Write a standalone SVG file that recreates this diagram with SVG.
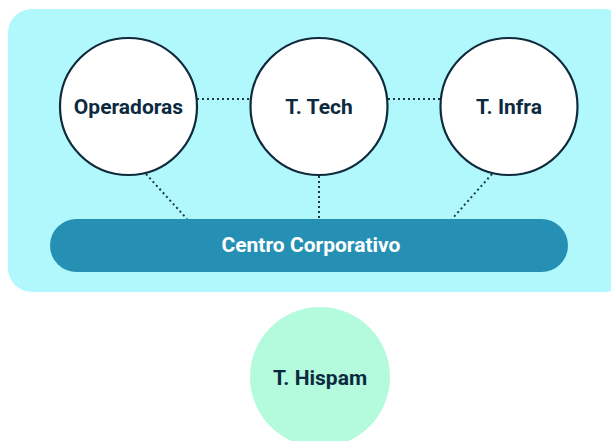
<svg xmlns="http://www.w3.org/2000/svg" width="611" height="441" viewBox="0 0 611 441">
<style>
.lbl{font-family:Roboto,"Liberation Sans",sans-serif;font-weight:bold;font-size:21px;fill:#0b2a40;text-anchor:middle;dominant-baseline:central}
.node{fill:#ffffff;stroke:#0f2a3c;stroke-width:2.2}
.dot{stroke:#1a3a4a;stroke-width:2;stroke-dasharray:2 3;fill:none}
</style>
<rect x="8" y="9" width="620" height="283" rx="24" fill="#b0f8fc"/>
<g id="connectors">
<line class="dot" x1="197" y1="99" x2="250" y2="99"/>
<line class="dot" x1="388" y1="99" x2="440" y2="99"/>
<line class="dot" x1="146" y1="174" x2="187" y2="219"/>
<line class="dot" x1="319" y1="176" x2="319" y2="219"/>
<line class="dot" x1="492" y1="174" x2="452" y2="219"/>
</g>
<g id="operadoras">
<circle class="node" cx="128.5" cy="106.5" r="68.5"/>
<text class="lbl" x="128.5" y="107">Operadoras</text>
</g>
<g id="ttech">
<circle class="node" cx="319" cy="106.5" r="68.5"/>
<text class="lbl" x="319" y="107">T. Tech</text>
</g>
<g id="tinfra">
<circle class="node" cx="509" cy="106.5" r="68.5"/>
<text class="lbl" x="509" y="107">T. Infra</text>
</g>
<g id="centro">
<rect x="50" y="219" width="518" height="53" rx="26.5" fill="#2690b4"/>
<text class="lbl" x="311" y="245" style="fill:#ffffff">Centro Corporativo</text>
</g>
<g id="thispam">
<circle cx="320" cy="377" r="70" fill="#b3fbdc"/>
<text class="lbl" x="320" y="378">T. Hispam</text>
</g>
</svg>
